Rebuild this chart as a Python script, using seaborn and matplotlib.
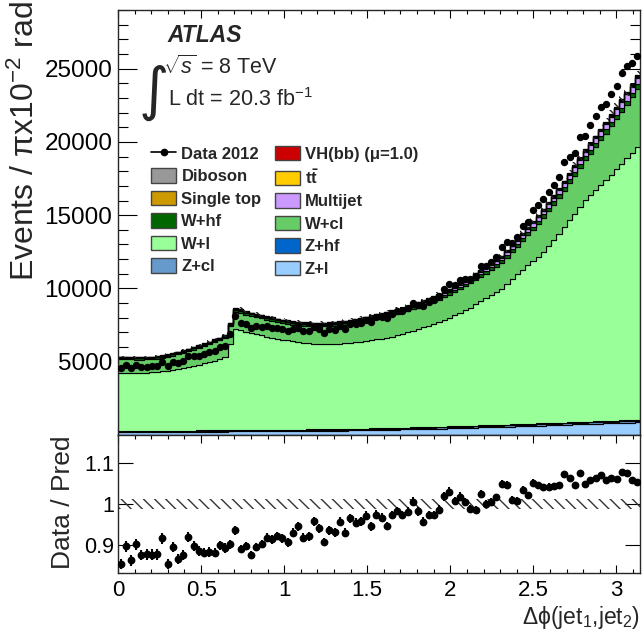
import numpy as np
import pandas as pd
import matplotlib
matplotlib.use("Agg")
import matplotlib.pyplot as plt
from matplotlib.patches import Patch
from matplotlib.lines import Line2D
from matplotlib.ticker import MultipleLocator, FixedLocator
import seaborn as sns

# ---------------- data ----------------
x_min, x_max, n_bins = 0.0, np.pi, 100

z_l = [200,200,202,203,204,205,206,207,208,210, 212,214,216,218,220,222,224,226,228,230,
       232,240,250,250,248,248,248,250,252,254, 256,258,260,263,266,270,274,278,282,286,
       290,295,300,305,310,316,322,328,334,340, 347,354,361,368,376,384,392,400,408,416,
       425,434,443,452,462,472,482,492,502,512, 523,534,545,556,567,578,589,600,612,624,
       636,648,660,672,684,696,708,720,732,744, 756,768,780,792,804,816,828,840,852,864]
z_cl = [48,48,49,49,50,50,50,51,51,52, 52,52,53,53,54,54,55,55,56,56,
        57,60,64,63,62,62,62,62,63,63, 64,64,65,65,66,66,67,67,68,68,
        69,69,70,70,71,71,72,72,73,73, 74,74,75,75,76,77,77,78,78,79,
        80,80,81,82,82,83,84,84,85,86, 86,87,88,88,89,90,90,91,92,92,
        93,94,94,95,96,96,97,98,98,99, 100,100,101,102,102,103,104,104,105,106]
z_hf = [28,28,28,29,29,29,29,30,30,30, 30,31,31,31,32,32,32,32,33,33,
        33,35,37,37,36,36,36,36,37,37, 37,37,38,38,38,39,39,39,40,40,
        40,40,41,41,41,42,42,42,43,43, 43,44,44,45,45,45,46,46,47,47,
        48,48,49,49,50,50,51,51,52,52, 53,53,54,54,55,55,56,56,57,57,
        58,58,59,59,60,60,61,61,62,62, 63,63,64,64,65,65,66,66,67,67]
w_l = [3985,3974,3961,3959,3967,3976,3995,4022,4051,4098, 4136,4183,4250,4318,4394,4482,4569,4667,4763,4881,
       5008,5865,6849,6800,6704,6614,6534,6452,6368,6296, 6223,6151,6087,6024,5970,5925,5890,5856,5830,5816,
       5811,5816,5829,5854,5878,5911,5944,5978,6020,6064, 6096,6168,6240,6312,6403,6494,6595,6696,6807,6918,
       7027,7148,7277,7417,7566,7725,7883,8073,8281,8490, 8698,8886,9083,9282,9609,9937,10265,10533,10809,11077,
       11353,11720,12087,12454,12890,13328,13774,14221,14658,15105, 15431,15759,16085,16412,16779,17146,17512,17880,18246,18603]
w_cl = [930,920,920,910,900,900,895,905,925,940, 980,1025,1050,1090,1115,1145,1180,1205,1245,1250,
        1270,1225,1200,1205,1155,1155,1150,1150,1140,1130, 1125,1125,1120,1130,1140,1145,1155,1160,1180,1195,
        1210,1225,1235,1250,1275,1300,1325,1360,1385,1410, 1445,1450,1450,1465,1460,1465,1470,1470,1475,1485,
        1505,1530,1550,1570,1590,1615,1645,1655,1650,1665, 1660,1690,1715,1735,1760,1800,1845,1950,2050,2155,
        2250,2305,2360,2420,2450,2500,2550,2600,2660,2740, 2850,2960,3080,3200,3320,3430,3530,3640,3780,4000]
w_hf = [80,80,80,80,80,81,81,82,82,83, 84,85,86,87,88,89,90,92,93,95,
        96,105,115,114,113,112,111,110,110,110, 110,110,110,111,111,112,112,113,114,115,
        116,117,118,119,120,122,124,126,128,130, 132,134,136,138,140,142,144,146,148,150,
        153,156,159,162,165,168,171,174,177,180, 184,188,192,196,200,204,208,212,216,220,
        224,228,232,236,240,244,248,252,256,260, 264,268,272,276,280,284,288,292,296,300]
multijet = [20,20,20,20,20,21,21,22,22,23, 24,25,26,27,28,29,30,31,32,33,
            34,40,48,48,47,47,47,47,48,48, 49,50,51,52,53,54,55,56,57,58,
            60,62,64,66,68,70,72,74,76,78, 80,83,86,89,92,95,98,102,106,110,
            114,118,122,127,132,137,142,148,154,160, 166,172,179,186,193,200,208,216,224,232,
            240,249,258,267,276,285,295,305,315,325, 335,346,357,368,379,390,402,414,426,438]
single_top = [25,25,25,25,25,25,25,25,26,26, 26,26,27,27,27,28,28,28,29,29,
              29,31,33,33,33,33,33,33,33,33, 33,33,34,34,34,35,35,35,36,36,
              36,37,37,37,38,38,38,39,39,39, 40,40,41,41,42,42,43,43,44,44,
              45,45,46,46,47,47,48,48,49,49, 50,50,51,51,52,52,53,53,54,54,
              55,55,56,56,57,57,58,58,59,59, 60,60,61,61,62,62,63,63,64,64]
ttbar = [14,14,14,14,15,15,15,15,15,16, 16,16,16,17,17,17,17,18,18,18,
         18,20,22,22,22,22,22,22,22,22, 22,22,23,23,23,23,24,24,24,24,
         25,25,25,25,26,26,26,26,27,27, 27,28,28,28,29,29,29,30,30,30,
         31,31,32,32,32,33,33,34,34,34, 35,35,36,36,37,37,37,38,38,39,
         39,40,40,41,41,42,42,43,43,44, 44,45,45,46,46,47,47,48,48,49]
diboson = [20,20,20,20,20,20,21,21,21,21, 21,22,22,22,22,23,23,23,24,24,
           24,26,28,28,28,28,28,28,28,28, 28,28,29,29,29,29,30,30,30,30,
           31,31,31,32,32,32,33,33,33,34, 34,34,35,35,36,36,36,37,37,38,
           38,38,39,39,40,40,41,41,42,42, 43,43,44,44,45,45,46,46,47,47,
           48,48,49,49,50,50,51,51,52,52, 53,53,54,54,55,55,56,56,57,57]
vh = [1,1,1,1,1,1,1,1,1,1, 1,1,1,1,1,1,1,1,1,1, 1,1,1,1,1,1,1,1,1,1,
      1,1,1,1,1,1,1,1,1,1, 1,1,1,1,1,1,1,1,1,1, 2,2,2,2,2,2,2,2,2,2,
      2,2,2,2,2,2,2,2,2,2, 3,3,3,3,3,3,3,3,3,3, 3,3,3,3,3,3,3,3,3,3,
      4,4,4,4,4,4,4,4,4,4]
data = [4570,4780,4590,4790,4650,4670,4680,4720,4980,4700, 5000,4920,5060,5420,5380,5420,5510,5630,5750,5980,
        6070,6900,8090,7660,7580,7320,7410,7390,7440,7330, 7330,7220,7090,7230,7310,7070,7080,7340,7210,6960,
        7200,7190,7420,7250,7590,7570,7660,7850,7720,8020, 8040,7960,8270,8450,8470,8650,8980,8890,8790,9070,
        9210,9500,9980,10280,10240,10560,10640,10660,10880,11560, 11500,11810,12180,12820,13190,13130,13510,14270,14510,15350,
        15690,16070,16570,17050,17630,18610,19000,19260,20360,20430, 21140,21740,22360,22620,23300,23790,24690,25170,25360,25880]
mc_rel_unc = 0.012

processes = ["VH(bb) (μ=1.0)", "Diboson", "tt", "Single top", "Multijet",
             "W+hf", "W+cl", "W+l", "Z+hf", "Z+cl", "Z+l"]
yields = [vh, diboson, ttbar, single_top, multijet, w_hf, w_cl, w_l, z_hf, z_cl, z_l]
colors = {"VH(bb) (μ=1.0)": "#cc0000", "Diboson": "#999999", "tt": "#ffcc00",
          "Single top": "#cc9900", "Multijet": "#cc99ff", "W+hf": "#006600",
          "W+cl": "#66cc66", "W+l": "#99ff99", "Z+hf": "#0066cc",
          "Z+cl": "#6699cc", "Z+l": "#99ccff"}

# ---------------- style ----------------
sns.set_style("ticks")
plt.rcParams["font.family"] = ["Liberation Sans", "DejaVu Sans"]
plt.rcParams["mathtext.fontset"] = "custom"
plt.rcParams["mathtext.rm"] = "Liberation Sans"
plt.rcParams["mathtext.it"] = "Liberation Sans:italic"
plt.rcParams["mathtext.bf"] = "Liberation Sans:bold"
plt.rcParams["hatch.linewidth"] = 1.0

edges = np.linspace(x_min, x_max, n_bins + 1)
centers = 0.5 * (edges[:-1] + edges[1:])

df = pd.concat([pd.DataFrame({"x": centers, "w": np.asarray(v, float), "process": p})
                for p, v in zip(processes, yields)], ignore_index=True)
total = np.sum([np.asarray(v, float) for v in yields], axis=0)
data_arr = np.asarray(data, float)
ratio = data_arr / total
ratio_err = np.sqrt(data_arr) / total

fig = plt.figure(figsize=(6.42, 6.31), dpi=100)
W, H = 642, 631
ax = fig.add_axes([118 / W, 1 - 435 / H, 522 / W, 425 / H])
axr = fig.add_axes([118 / W, 1 - 573 / H, 522 / W, 138 / H], sharex=ax)

sns.histplot(data=df, x="x", weights="w", hue="process", hue_order=processes,
             palette=colors, multiple="stack", element="step", fill=True,
             bins=n_bins, binrange=(x_min, x_max), alpha=1, linewidth=0.8,
             edgecolor="black", legend=False, ax=ax)

# MC uncertainty band
tot_ext = np.append(total, total[-1])
ax.fill_between(edges, tot_ext * (1 - mc_rel_unc), tot_ext * (1 + mc_rel_unc), step="post",
                facecolor="none", edgecolor="#222222", hatch="\\\\\\", linewidth=0)
ax.errorbar(centers, data_arr, yerr=np.sqrt(data_arr), fmt="o", color="black",
            ms=4.3, elinewidth=1, capsize=0, zorder=5)

# ratio panel
ones = np.ones(n_bins + 1)
axr.fill_between(edges, ones * (1 - mc_rel_unc), ones * (1 + mc_rel_unc), step="post",
                 facecolor="none", edgecolor="#333333", hatch="\\\\\\", linewidth=0)
axr.errorbar(centers, ratio, yerr=ratio_err, fmt="o", color="black",
             ms=4.6, elinewidth=1.5, capsize=0, zorder=5)

# axes ranges / ticks
ax.set_xlim(x_min, x_max)
ax.set_ylim(0, 29000)
axr.set_ylim(0.832, 1.168)
ax.yaxis.set_major_locator(FixedLocator([5000, 10000, 15000, 20000, 25000]))
ax.yaxis.set_minor_locator(MultipleLocator(1000))
ax.xaxis.set_major_locator(MultipleLocator(0.5))
ax.xaxis.set_minor_locator(MultipleLocator(0.1))
axr.yaxis.set_major_locator(FixedLocator([0.9, 1.0, 1.1]))
axr.set_yticklabels(["0.9", "1", "1.1"])
axr.set_xticks([0, 0.5, 1, 1.5, 2, 2.5, 3])
axr.set_xticklabels(["0", "0.5", "1", "1.5", "2", "2.5", "3"])

for a in (ax, axr):
    a.tick_params(which="both", direction="in", top=True, right=True, colors="black")
    a.tick_params(axis="x", which="major", length=6, width=0.8, pad=5, labelsize=16)
    a.tick_params(axis="x", which="minor", length=3, width=0.8)
    for s in a.spines.values():
        s.set_linewidth(1.0)
ax.tick_params(axis="y", which="major", length=14, width=0.8, pad=4, labelsize=17.5)
ax.tick_params(axis="y", which="minor", length=7, width=0.8)
axr.tick_params(axis="y", which="major", length=11, width=0.8, pad=2.5, labelsize=15.5)
axr.tick_params(axis="y", which="minor", length=0)
ax.tick_params(labelbottom=False)

ax.set_xlabel("")
ax.set_ylabel("Events / πx10$^{-2}$ rad", fontsize=23, loc="top")
ax.yaxis.set_label_coords(-0.148, 1.02)
axr.set_ylabel("Data / Pred", fontsize=19)
axr.yaxis.set_label_coords(-0.082, 0.51)
axr.set_xlabel("Δϕ(jet$_1$,jet$_2$)", fontsize=16.5, loc="right")
axr.xaxis.set_label_coords(1.0, -0.225)

# annotations
ax.text(0.094, 0.941, "ATLAS", transform=ax.transAxes, fontsize=16.5, fontweight="bold",
        fontstyle="italic", va="center", ha="left")
ax.text(0.086, 0.866, r"$\sqrt{s}$ = 8 TeV", transform=ax.transAxes, fontsize=15.5,
        va="center", ha="left")
ax.text(0.096, 0.790, "L dt = 20.3 fb$^{-1}$", transform=ax.transAxes, fontsize=15.5,
        va="center", ha="left")
ax.text(0.068, 0.806, "∫", transform=ax.transAxes, fontsize=42, va="center", ha="center",
        family=["DejaVu Sans"])

# legend (two columns)
def box(p):
    return Patch(facecolor=colors[p], edgecolor="#444444", linewidth=1.0)

data_handle = Line2D([], [], color="black", marker="o", ms=4.5, lw=1.2)
col1 = [(data_handle, "Data 2012"), (box("Diboson"), "Diboson"), (box("Single top"), "Single top"),
        (box("W+hf"), "W+hf"), (box("W+l"), "W+l"), (box("Z+cl"), "Z+cl")]
col2 = [(box("VH(bb) (μ=1.0)"), "VH(bb) (μ=1.0)"), (box("tt"), r"t$\mathbf{\bar{t}}$"),
        (box("Multijet"), "Multijet"), (box("W+cl"), "W+cl"), (box("Z+hf"), "Z+hf"),
        (box("Z+l"), "Z+l")]
leg_kw = dict(frameon=False, prop={"weight": "bold", "size": 12}, handlelength=1.5,
              handleheight=1.0, labelspacing=0.38, handletextpad=0.3, borderpad=0,
              borderaxespad=0, loc="upper left")
leg1 = ax.legend([h for h, _ in col1], [l for _, l in col1],
                 bbox_to_anchor=(0.064, 0.681), **leg_kw)
ax.add_artist(leg1)
ax.legend([h for h, _ in col2], [l for _, l in col2],
          bbox_to_anchor=(0.300, 0.681), **leg_kw)

fig.savefig("out.png", dpi=100)
